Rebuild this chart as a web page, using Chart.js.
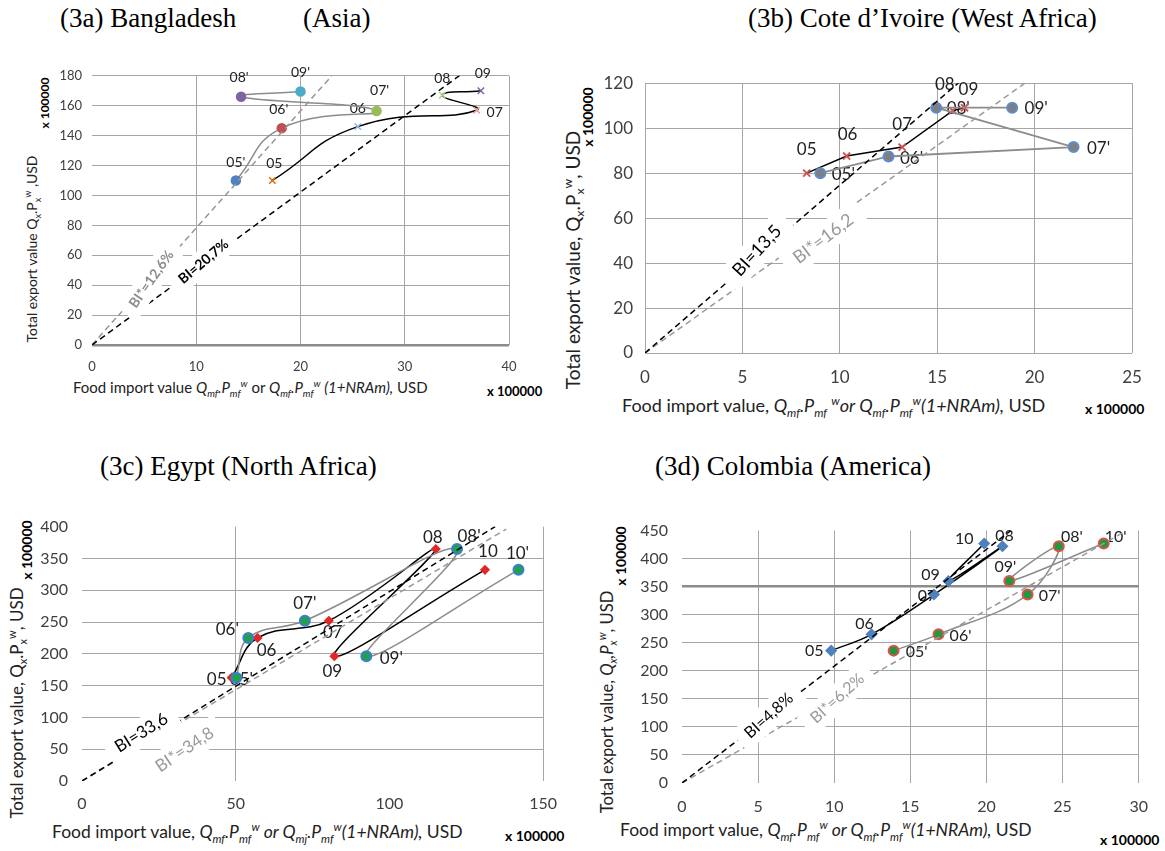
<!DOCTYPE html>
<html>
<head>
<meta charset="utf-8">
<script src="https://cdn.jsdelivr.net/npm/chart.js@4.4.0/dist/chart.umd.min.js"></script>
<style>
body { margin: 0; background: #fff; width: 1165px; height: 851px; position: relative; overflow: hidden; font-family: Lato, sans-serif; }
.box { position: absolute; }
.t { position: absolute; white-space: nowrap; font-family: "Liberation Serif", serif; font-size: 27px; color: #000; line-height: 1; }
.ax { position: absolute; white-space: nowrap; color: #222; line-height: 1; }
.rot { transform: translate(-50%, -50%) rotate(-90deg); }
.k { position: absolute; white-space: nowrap; font-weight: bold; color: #000; line-height: 1; }
sub, sup { font-size: 65%; line-height: 0; }
</style>
</head>
<body>

<div class="t" style="left:60px;top:5px">(3a) Bangladesh</div>
<div class="t" style="left:303px;top:5px">(Asia)</div>
<div class="t" style="left:748px;top:5px">(3b) Cote d’Ivoire (West Africa)</div>
<div class="t" style="left:100px;top:453px">(3c) Egypt (North Africa)</div>
<div class="t" style="left:655px;top:453px">(3d) Colombia (America)</div>

<!-- axis titles -->
<div class="ax" style="left:73px;top:380px;font-size:15px">Food import value <i>Q<sub>mf</sub>.P<sub>mf</sub><sup>w</sup></i> or <i>Q<sub>mf</sub>.P<sub>mf</sub><sup>w</sup> (1+NRAm),</i> USD</div>
<div class="k" style="left:487px;top:385px;font-size:13px">x 100000</div>
<div class="ax rot" style="left:32px;top:249px;font-size:14px">Total export value Q<sub>x</sub>.P<sub>x</sub><sup>w</sup> ,USD</div>
<div class="k rot" style="left:45px;top:103px;font-size:12px">x 100000</div>

<div class="ax" style="left:622px;top:396px;font-size:18px">Food import value, <i>Q<sub>mf</sub>.P<sub>mf</sub> <sup>w</sup>or Q<sub>mf</sub>.P<sub>mf</sub><sup>w</sup>(1+NRAm),</i> USD</div>
<div class="k" style="left:1085px;top:402px;font-size:14px">x 100000</div>
<div class="ax rot" style="left:572px;top:260px;font-size:19px">Total export value, Q<sub>x</sub>.P<sub>x</sub><sup>w</sup>, USD</div>
<div class="k rot" style="left:588px;top:117px;font-size:14px">x 100000</div>

<div class="ax" style="left:52px;top:823px;font-size:17.5px">Food import value, <i>Q<sub>mf</sub>.P<sub>mf</sub><sup>w</sup> or Q<sub>mj</sub>.P<sub>mf</sub><sup>w</sup>(1+NRAm),</i> USD</div>
<div class="k" style="left:505px;top:829px;font-size:14px">x 100000</div>
<div class="ax rot" style="left:16px;top:703px;font-size:17px">Total export value, Q<sub>x</sub>.P<sub>x</sub><sup>w</sup>, USD</div>
<div class="k rot" style="left:27px;top:550px;font-size:14px">x 100000</div>

<div class="ax" style="left:620px;top:821px;font-size:17.5px">Food import value, <i>Q<sub>mf</sub>.P<sub>mf</sub><sup>w</sup> or Q<sub>mf</sub>.P<sub>mf</sub><sup>w</sup>(1+NRAm),</i> USD</div>
<div class="k" style="left:1100px;top:833px;font-size:14px">x 100000</div>
<div class="ax rot" style="left:607px;top:702px;font-size:16.6px">Total export value, <i>Q<sub>x</sub>,P<sub>x</sub><sup>w</sup></i>, USD</div>
<div class="k rot" style="left:621px;top:556px;font-size:14px">x 100000</div>

<script>
// (3a) Bangladesh
const bdYears = ['05', '06', '07', '08', '09'];
const bdX = [17.3, 25.5, 36.9, 33.6, 37.3];
const bdY = [110, 146, 157, 167, 170];
const bdXs = [13.8, 18.2, 27.3, 14.3, 20.0];
const bdYs = [110, 145, 156.5, 166, 169.5];
const bdBIx = [0, 36], bdBIy = [0, 184];
const bdBISx = [0, 23], bdBISy = [0, 180];

// (3b) Cote d'Ivoire
const ciYears = ['05', '06', '07', '08', '09'];
const ciX = [8.3, 10.35, 13.2, 15.8, 16.4];
const ciY = [80, 87.6, 91.6, 107.8, 109.1];
const ciXs = [9.0, 12.5, 22.0, 14.95, 18.85];
const ciYs = [80, 87.4, 91.6, 109.1, 109.1];
const ciBIx = [0, 16.15], ciBIy = [0, 120.6];
const ciBISx = [0, 19.6], ciBISy = [0, 120.6];

// (3c) Egypt
const egYears = ['05', '06', '07', '08', '09', '10'];
const egX = [48.7, 57.1, 80.3, 115.1, 82.1, 131.1];
const egY = [162.5, 225, 252, 364.8, 196.2, 332];
const egXs = [50.2, 54.1, 72.5, 122, 92.5, 142];
const egYs = [162.5, 225, 252, 364.8, 196.2, 332];
const egBIx = [0, 134.4], egBIy = [0, 400];
const egBISx = [0, 138], egBISy = [0, 396];

// (3d) Colombia
const coYears = ['05', '06', '07', '08', '09', '10'];
const coX = [9.8, 12.45, 16.55, 21.05, 17.5, 19.85];
const coY = [236, 265, 336, 422, 360, 427];
const coXs = [13.9, 16.85, 22.7, 24.75, 21.5, 27.7];
const coYs = [236, 265, 336, 422, 360, 427];
const coBIx = [0, 21.6], coBIy = [0, 450];
const coBISx = [0, 29], coBISy = [0, 447];

const GRID = '#a6a6a6';
const NONE = 'rgba(0,0,0,0)';

function pts(xs, ys) {
    return xs.map(function (x, i) { return { x: x, y: ys[i] }; });
}
function prime(years) {
    return years.map(function (y) { return y + "'"; });
}

// text extras per canvas: point labels + BI labels with white box
var extras = {};

const extraPlugin = {
    id: 'extra',
    beforeDatasetsDraw(chart) {
        var e = extras[chart.canvas.id];
        if (!e) return;
        var ctx = chart.ctx, sx = chart.scales.x, sy = chart.scales.y;
        ctx.save();
        ctx.font = e.size + 'px Lato';
        ctx.fillStyle = '#222';
        ctx.textAlign = 'center';
        ctx.textBaseline = 'middle';
        e.series.forEach(function (s) {
            s.xs.forEach(function (x, i) {
                ctx.fillText(s.names[i], sx.getPixelForValue(x) + s.off[i][0], sy.getPixelForValue(s.ys[i]) + s.off[i][1]);
            });
        });
        ctx.restore();
    },
    afterDatasetsDraw(chart) {
        var e = extras[chart.canvas.id];
        if (!e) return;
        var ctx = chart.ctx, sx = chart.scales.x, sy = chart.scales.y;
        e.bi.forEach(function (b) {
            ctx.save();
            ctx.translate(sx.getPixelForValue(b.x), sy.getPixelForValue(b.y));
            ctx.rotate(-b.angle * Math.PI / 180);
            ctx.font = (b.bold ? 'bold ' : '') + b.size + 'px Lato';
            var w = ctx.measureText(b.text).width;
            ctx.fillStyle = '#fff';
            ctx.fillRect(-w / 2 - b.pad, -b.size / 2 - 5, w + 2 * b.pad, b.size + 10);
            ctx.fillStyle = b.color;
            ctx.textAlign = 'center';
            ctx.textBaseline = 'middle';
            ctx.fillText(b.text, 0, 0);
            ctx.restore();
        });
    }
};

function dashed(data, color) {
    return { data: data, showLine: true, borderColor: color, borderWidth: 1.5, borderDash: [6, 4], pointRadius: 0, tension: 0 };
}

function makeChart(id, lay, datasets, xr, yr, gx, gy) {
    var div = document.createElement('div');
    div.className = 'box';
    div.style.left = (lay.L - lay.yw) + 'px';
    div.style.top = (lay.T - lay.pt) + 'px';
    div.style.width = (lay.R - lay.L + lay.yw + lay.pr) + 'px';
    div.style.height = (lay.B - lay.T + lay.pt + lay.xh) + 'px';
    var cv = document.createElement('canvas');
    cv.id = id;
    div.appendChild(cv);
    document.body.appendChild(div);

    new Chart(cv, {
        type: 'scatter',
        data: { datasets: datasets },
        plugins: [extraPlugin],
        options: {
            animation: false,
            responsive: true,
            maintainAspectRatio: false,
            layout: { padding: { left: 0, top: lay.pt, right: lay.pr, bottom: 0 } },
            plugins: { legend: { display: false }, tooltip: { enabled: false } },
            scales: {
                x: {
                    type: 'linear', min: xr[0], max: xr[1],
                    ticks: { stepSize: xr[2], color: '#404040', padding: lay.padX, font: { family: 'Lato', size: lay.tick } },
                    grid: { color: gx.color, lineWidth: gx.width || 1, drawTicks: false },
                    border: { display: false },
                    afterFit: function (s) { s.height = lay.xh; }
                },
                y: {
                    type: 'linear', min: yr[0], max: yr[1],
                    ticks: { stepSize: yr[2], color: '#404040', padding: lay.padY, font: { family: 'Lato', size: lay.tick } },
                    grid: { color: gy.color, lineWidth: gy.width || 1, drawTicks: false },
                    border: { display: false },
                    afterFit: function (s) { s.width = lay.yw; }
                }
            }
        }
    });
}

// ---------- (3a) ----------
extras.c3a = {
    size: 14,
    series: [
        { names: bdYears, xs: bdX, ys: bdY, off: [[2, -17], [0, -18], [18, 2], [0, -17], [2, -17]] },
        { names: prime(bdYears), xs: bdXs, ys: bdYs, off: [[0, -18], [-3, -19], [3, -20], [-2, -19], [0, -19]] }
    ],
    bi: [
        { text: 'BI=20,7%', x: 10.7, y: 55.8, angle: 40, size: 14, bold: true, color: '#000', pad: 10 },
        { text: 'BI*=12,6%', x: 5.7, y: 44, angle: 55, size: 14, bold: true, color: '#8c8c8c', pad: 10 }
    ]
};
makeChart('c3a', { L: 92, T: 70, R: 509, B: 345, yw: 50, xh: 30, pt: 12, pr: 22, tick: 13, padX: 14, padY: 10 }, [
    dashed(pts(bdBIx, bdBIy), '#000'),
    dashed(pts(bdBISx, bdBISy), '#969696'),
    {
        data: pts(bdXs, bdYs), showLine: true, borderColor: '#8c8c8c', borderWidth: 1.5, tension: 0.5,
        pointStyle: 'circle', pointRadius: 4.5,
        pointBackgroundColor: ['#4f81bd', '#c0504d', '#9bbb59', '#8064a2', '#4bacc6'],
        pointBorderColor: ['#4f81bd', '#c0504d', '#9bbb59', '#8064a2', '#4bacc6']
    },
    {
        data: pts(bdX, bdY), showLine: true, borderColor: '#000', borderWidth: 1.5, tension: 0.5,
        pointStyle: 'crossRot', pointRadius: 4.5, pointBorderWidth: 1.5,
        pointBorderColor: ['#e46c0a', '#8eb4e3', '#e6a0a0', '#a8d08d', '#8064a2']
    }
], [0, 40, 10], [0, 180, 20],
    { color: function (c) { return c.tick.value === 0 ? NONE : GRID; } },
    { color: function (c) { return c.tick.value === 0 ? '#8c8c8c' : GRID; }, width: function (c) { return c.tick.value === 0 ? 2.5 : 1; } });

// ---------- (3b) ----------
extras.c3b = {
    size: 17,
    series: [
        { names: ciYears, xs: ciX, ys: ciY, off: [[0, -24], [1, -22], [0, -23], [-8, -26], [4, -18]] },
        { names: prime(ciYears), xs: ciXs, ys: ciYs, off: [[23, 1], [23, 2], [25, 1], [22, 1], [24, 1]] }
    ],
    bi: [
        { text: 'BI=13,5', x: 5.75, y: 45.5, angle: 47, size: 18, bold: false, color: '#000', pad: 12 },
        { text: 'BI*=16,2', x: 9.15, y: 50.8, angle: 37, size: 18, bold: false, color: '#9a9a9a', pad: 12 }
    ]
};
makeChart('c3b', { L: 645, T: 75, R: 1132, B: 353, yw: 70, xh: 34, pt: 14, pr: 25, tick: 17, padX: 14, padY: 12 }, [
    dashed(pts(ciBIx, ciBIy), '#000'),
    dashed(pts(ciBISx, ciBISy), '#9a9a9a'),
    {
        data: pts(ciXs, ciYs), showLine: true, borderColor: '#8c8c8c', borderWidth: 1.8, tension: 0,
        pointStyle: 'circle', pointRadius: 5, pointBorderWidth: 2,
        pointBackgroundColor: '#7f7f7f', pointBorderColor: '#5b8fd0'
    },
    {
        data: pts(ciX, ciY), showLine: true, borderColor: '#000', borderWidth: 1.5, tension: 0,
        pointStyle: 'crossRot', pointRadius: 5, pointBorderWidth: 1.8, pointBorderColor: '#d0504d'
    }
], [0, 25, 5], [0, 120, 20], { color: GRID }, { color: GRID });

// ---------- (3c) ----------
extras.c3c = {
    size: 17,
    series: [
        { names: egYears, xs: egX, ys: egY, off: [[-15, 2], [9, 13], [4, 12], [-3, -11], [-2, 15], [3, -18]] },
        { names: prime(egYears), xs: egXs, ys: egYs, off: [[5, 2], [-21, -8], [0, -17], [12, -12], [25, 2], [-1, -16]] }
    ],
    bi: [
        { text: 'BI=33,6', x: 19.3, y: 76, angle: 32, size: 17, bold: false, color: '#000', pad: 10 },
        { text: 'BI*=34,8', x: 33.4, y: 49.3, angle: 34, size: 17, bold: false, color: '#9a9a9a', pad: 10 }
    ]
};
makeChart('c3c', { L: 82, T: 517, R: 545, B: 781, yw: 55, xh: 34, pt: 14, pr: 25, tick: 16, padX: 13, padY: 14 }, [
    dashed(pts(egBIx, egBIy), '#000'),
    dashed(pts(egBISx, egBISy), '#9a9a9a'),
    {
        data: pts(egXs, egYs), showLine: true, borderColor: '#8c8c8c', borderWidth: 1.5, tension: 0.4,
        pointStyle: 'circle', pointRadius: 5, pointBorderWidth: 2,
        pointBackgroundColor: '#22a04b', pointBorderColor: '#3b7fd4'
    },
    {
        data: pts(egX, egY), showLine: true, borderColor: '#000', borderWidth: 1.5, tension: 0.4,
        pointStyle: 'rectRot', pointRadius: 4, pointBackgroundColor: '#e02828', pointBorderColor: '#e02828'
    }
], [0, 150, 50], [0, 400, 50],
    { color: function (c) { return (c.tick.value === 50 || c.tick.value === 150) ? GRID : NONE; } },
    { color: function (c) { return (c.tick.value === 0 || c.tick.value === 400) ? NONE : GRID; } });

// ---------- (3d) ----------
extras.c3d = {
    size: 16,
    series: [
        { names: coYears, xs: coX, ys: coY, off: [[-17, 0], [-7, -11], [-7, 1], [2, -10], [-18, -6], [-20, -5]] },
        { names: prime(coYears), xs: coXs, ys: coYs, off: [[23, 1], [22, 1], [22, 1], [13, -9], [-4, -14], [12, -7]] }
    ],
    bi: [
        { text: 'BI=4,8%', x: 5.7, y: 120, angle: 42, size: 16, bold: false, color: '#000', pad: 10 },
        { text: 'BI*=6,2%', x: 10.2, y: 151, angle: 42, size: 16, bold: false, color: '#9a9a9a', pad: 10 }
    ]
};
makeChart('c3d', { L: 682, T: 521, R: 1142, B: 783, yw: 55, xh: 34, pt: 14, pr: 20, tick: 16, padX: 14, padY: 14 }, [
    dashed(pts(coBIx, coBIy), '#000'),
    dashed(pts(coBISx, coBISy), '#9a9a9a'),
    {
        data: pts(coXs, coYs), showLine: true, borderColor: '#8c8c8c', borderWidth: 1.5, tension: 0.4,
        pointStyle: 'circle', pointRadius: 5, pointBorderWidth: 2,
        pointBackgroundColor: '#1e9a3c', pointBorderColor: '#e0504d'
    },
    {
        data: pts(coX, coY), showLine: true, borderColor: '#000', borderWidth: 1.5, tension: 0.4,
        pointStyle: 'rectRot', pointRadius: 5, pointBackgroundColor: '#4f81bd', pointBorderColor: '#4f81bd'
    }
], [0, 30, 5], [0, 450, 50],
    { color: function (c) { return c.tick.value === 0 ? NONE : GRID; } },
    {
        color: function (c) { return (c.tick.value === 0 || c.tick.value === 450) ? NONE : (c.tick.value === 350 ? '#8c8c8c' : GRID); },
        width: function (c) { return c.tick.value === 350 ? 2.5 : 1; }
    });
</script>
</body>
</html>
